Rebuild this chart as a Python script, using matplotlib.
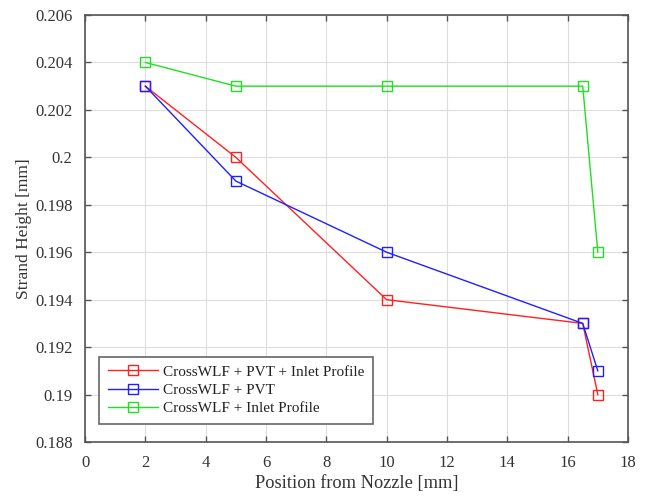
import numpy as np
import matplotlib
matplotlib.use("Agg")
import matplotlib.pyplot as plt
from matplotlib.ticker import FuncFormatter, MultipleLocator

plt.rcParams["font.family"] = ["Liberation Serif", "DejaVu Serif"]

# positions along the strand [mm]
position = [2, 5, 10, 16.5, 17]

# strand height for each model setup [mm]
height_full = [0.203, 0.200, 0.194, 0.193, 0.190]
height_pvt = [0.203, 0.199, 0.196, 0.193, 0.191]
height_inlet = [0.204, 0.203, 0.203, 0.203, 0.196]

labels = [
    "CrossWLF + PVT + Inlet Profile",
    "CrossWLF + PVT",
    "CrossWLF + Inlet Profile",
]
colors = ["#ff2020", "#2020ff", "#20e020"]

fig = plt.figure(figsize=(6.46, 4.98), dpi=100)
ax = fig.add_axes([0.1316, 0.1124, 0.8405, 0.8575])

for y, lab, c in zip([height_full, height_pvt, height_inlet], labels, colors):
    ax.plot(position, y, "-s", color=c, lw=1.0, ms=7, mfc="none", mec=c,
            mew=1.0, label=lab)

ax.set_xlim(0, 18)
ax.set_ylim(0.188, 0.206)
ax.xaxis.set_major_locator(MultipleLocator(2))
ax.yaxis.set_major_locator(MultipleLocator(0.002))
ax.yaxis.set_major_formatter(FuncFormatter(lambda v, p: "%g" % round(v, 4)))

ax.grid(True, color="#dddddd", lw=0.8)
ax.set_axisbelow(True)
for s in ax.spines.values():
    s.set_color("#555555")
    s.set_linewidth(1.2)
ax.tick_params(direction="in", top=True, right=True, length=4, width=1.0,
               color="#555555", labelsize=12, labelcolor="#333333", pad=9)

ax.set_xlabel("Position from Nozzle [mm]", fontsize=13.2, color="#333333",
              labelpad=3)
ax.set_ylabel("Strand Height [mm]", fontsize=12.6, color="#333333",
              labelpad=2)

leg = ax.legend(loc="lower left", bbox_to_anchor=(0.012, 0.025), fontsize=11,
                fancybox=False, framealpha=1, edgecolor="#666666",
                handlelength=3.3, handletextpad=0.35, borderpad=0.55,
                labelspacing=0.3)
leg.get_frame().set_linewidth(1.2)
for t in leg.get_texts():
    t.set_color("#222222")

fig.savefig("out.png", dpi=100)
